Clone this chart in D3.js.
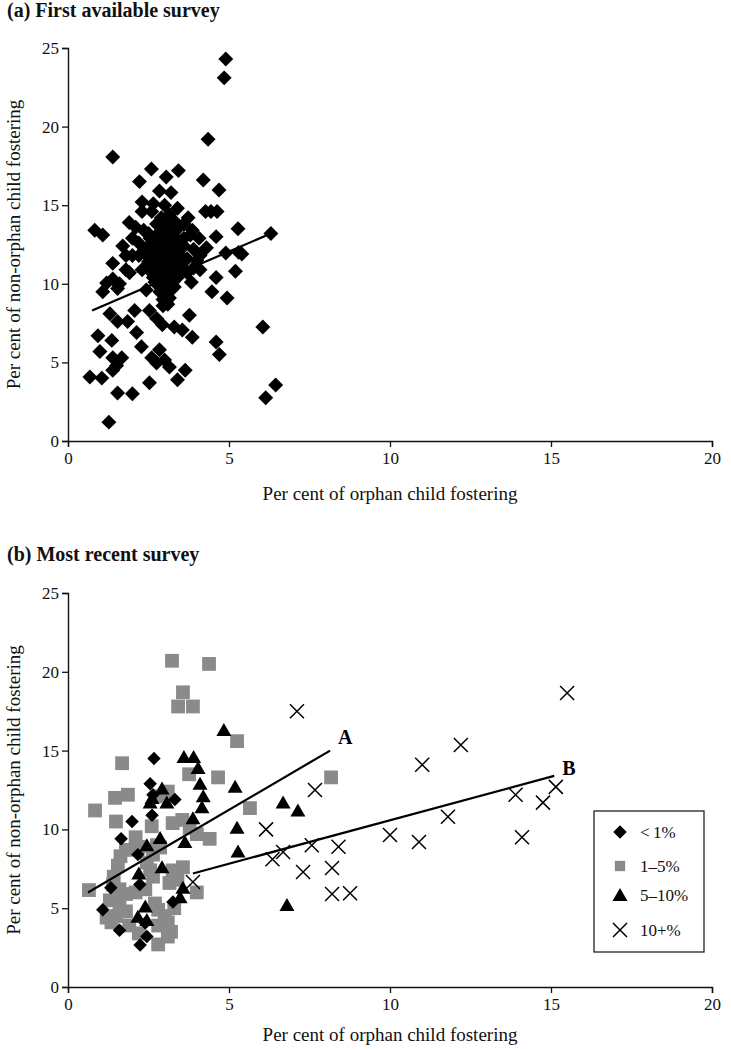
<!DOCTYPE html>
<html><head><meta charset="utf-8">
<script src="https://cdn.jsdelivr.net/npm/d3@7/dist/d3.min.js"></script>
<style>body{margin:0;background:#fff}svg{display:block}text{font-family:"Liberation Serif","Times New Roman",serif}</style>
</head><body>
<svg id="c" width="731" height="1050"></svg>
<script>
// ---------- DATA ----------
const xTicks = [0,5,10,15,20];
const yTicks = [0,5,10,15,20,25];
const legendLabels = ["<\u20091%","1\u20135%","5\u201310%","10+%"];

// Panel (a): first available survey [orphan %, non-orphan %]
const firstSurvey = [
[4.9,24.3],[4.85,23.1],[4.35,19.2],[1.39,18.07],[2.59,17.3],[3.05,16.8],[3.43,17.2],[2.22,16.5],[4.2,16.6],[4.69,15.97],
[2.84,15.9],[3.2,15.8],[2.3,15.2],[2.65,15.1],[3.0,15.0],[3.4,14.8],[2.3,14.6],[2.6,14.6],[4.27,14.6],[4.44,14.6],
[4.63,14.6],[3.73,14.2],[0.83,13.4],[1.08,13.1],[1.9,13.9],[2.1,13.6],[5.28,13.5],[6.3,13.2],[4.6,13.0],[3.86,13.4],
[4.07,12.9],[5.3,12.0],[4.9,11.96],[5.4,11.9],[5.2,10.8],[4.6,10.4],[4.47,9.5],[4.94,9.1],[3.83,10.1],
[1.8,11.8],[2.2,11.8],[2.0,11.8],[1.39,11.3],[1.8,10.9],[1.91,10.7],[1.39,10.3],[1.6,10.0],[1.2,10.05],[1.08,9.5],[1.54,9.7],[2.43,9.6],
[2.07,8.3],[1.3,8.1],[1.54,7.6],[1.85,7.6],[2.13,6.9],[2.28,6.0],[2.53,8.3],[2.75,7.8],[2.93,7.4],[3.05,8.8],
[3.3,7.25],[3.55,7.06],[3.77,8.0],[3.86,6.6],[0.93,6.7],[1.36,6.4],[0.99,5.7],[1.39,5.3],[1.67,5.3],[1.51,4.8],
[1.39,4.5],[0.68,4.07],[1.05,4.0],[1.54,3.05],[2.0,3.0],[2.53,3.7],[2.84,5.8],[3.0,5.15],[3.15,4.7],[2.75,4.96],
[2.6,5.3],[3.4,3.9],[3.64,4.5],[4.6,6.3],[4.7,5.5],[6.05,7.25],[6.45,3.56],[6.14,2.75],[1.27,1.2],
[2.5,13.2],[2.7,13.0],[2.9,13.4],[3.1,13.1],[3.3,13.3],[2.6,12.6],[2.8,12.4],[3.0,12.7],[3.2,12.5],[3.4,12.8],
[3.6,12.4],[2.4,12.2],[2.65,11.9],[2.85,11.7],[3.05,12.0],[3.25,11.8],[3.45,11.9],[3.7,11.6],[2.5,11.4],[2.75,11.2],
[2.95,11.3],[3.15,11.1],[3.35,11.3],[3.55,11.0],[2.6,10.7],[2.8,10.5],[3.0,10.8],[3.2,10.6],[3.4,10.4],[2.7,10.1],
[2.9,9.9],[3.1,10.2],[3.3,9.8],[2.85,9.5],[3.05,9.3],[3.2,9.6],[2.95,9.0],[3.1,8.7],[3.3,14.0],[2.9,14.2],
[3.6,13.8],[3.8,13.1],[3.9,12.2],[4.0,11.5],[3.7,10.7],[3.9,11.0],[2.3,10.9],[2.2,12.6],[2.35,13.4],[1.7,12.4],
[2.0,12.9],[4.1,11.8],[4.3,12.3],[4.1,10.9],
[2.55,12.9],[2.75,12.7],[2.95,12.2],[3.15,12.3],[3.35,12.2],[2.7,11.6],[2.9,11.0],[3.1,11.6],[3.3,10.9],[3.5,11.5],
[2.65,10.4],[2.85,10.2],[3.05,10.5],[3.25,10.1],[2.95,9.7],[3.0,9.6],[3.15,9.1],[2.95,8.6],[3.05,13.7],[2.75,13.8],
[3.15,14.4],[3.45,13.6],[2.45,11.8],[3.6,12.9]
];
const fitFirst = [[0.75,8.3],[6.3,13.2]];

// Panel (b): most recent survey, by level of orphanhood
const lt1 = [
[2.67,14.5],[2.64,12.2],[3.32,11.9],[2.61,10.9],[1.99,10.5],[1.65,9.4],[2.17,8.4],[1.33,6.3],[2.23,6.5],[3.26,5.4],
[1.08,4.9],[1.6,3.6],[2.4,4.06],[2.45,3.2],[2.24,2.67],[2.55,12.9]
];
const p1to5 = [
[3.23,20.7],[4.38,20.5],[3.57,18.7],[3.42,17.8],[3.88,17.8],[5.25,15.6],[1.68,14.2],[3.76,13.5],[4.66,13.3],[8.17,13.3],
[5.65,11.35],[1.46,12.0],[1.86,12.2],[0.84,11.2],[3.1,12.4],[2.9,12.1],[1.49,10.5],[2.6,10.2],[3.25,10.4],[3.55,10.6],
[3.78,10.1],[4.0,9.7],[4.4,9.4],[2.1,9.5],[2.2,8.9],[1.8,8.7],[1.63,8.3],[1.55,7.7],[1.42,7.0],[2.76,9.0],
[2.64,8.4],[2.86,8.85],[2.45,7.9],[2.55,7.4],[2.64,7.0],[3.25,7.4],[3.57,7.6],[3.4,6.8],[4.0,6.0],[3.15,6.6],
[0.65,6.15],[1.4,6.5],[1.6,6.2],[1.5,5.8],[1.8,5.9],[2.1,6.0],[2.4,6.2],[1.3,5.5],[1.6,5.2],[1.8,4.8],
[1.5,4.5],[1.2,4.4],[1.35,4.1],[1.9,3.9],[2.2,3.4],[2.7,5.3],[2.8,4.9],[3.0,4.5],[3.1,4.1],[2.8,3.9],
[3.2,3.5],[2.8,2.7],[3.1,3.2],[3.3,5.0]
];
const p5to10 = [
[4.84,16.3],[3.6,14.6],[3.9,14.6],[4.04,13.9],[4.1,12.9],[4.2,12.1],[4.16,11.4],[3.88,10.7],[5.19,12.7],[6.68,11.7],
[7.14,11.2],[5.25,10.1],[5.28,8.6],[2.92,12.6],[2.61,12.0],[2.55,11.7],[3.07,11.7],[2.45,9.0],[2.86,9.45],[3.63,9.2],
[2.92,7.6],[3.57,6.3],[3.48,5.7],[2.4,5.1],[2.17,4.45],[2.45,4.25],[6.8,5.2],[2.2,7.2]
];
const p10plus = [
[7.11,17.5],[7.67,12.5],[12.2,15.35],[11.0,14.1],[15.5,18.65],[15.15,12.7],[13.9,12.2],[14.75,11.7],[11.8,10.8],[10.0,9.65],
[10.9,9.2],[14.1,9.5],[6.15,10.0],[6.35,8.1],[6.68,8.57],[7.57,9.0],[8.4,8.9],[7.3,7.3],[8.2,7.55],[8.2,5.9],
[8.76,5.95],[3.88,6.66]
];
const fitA = [[0.62,6.0],[8.14,15.0]];
const fitB = [[3.88,7.2],[15.1,13.4]];

// ---------- DRAW ----------
const svg = d3.select("#c");
const x = d3.scaleLinear().domain([0,20]).range([68,712]);
const yA = d3.scaleLinear().domain([0,25]).range([441,48]);
const yB = d3.scaleLinear().domain([0,25]).range([987,593]);
const GRAY = "#8a8a8a";

const diamond = d3.symbol().type(d3.symbolSquare).size(112)();
const square = d3.symbol().type(d3.symbolSquare).size(190)();
const tri = "M0,-7L7.5,6L-7.5,6Z";
const cross = "M-7,-7L7,7M7,-7L-7,7";

function axes(y, titleX, titleY, title, xTitleY) {
  const g = svg.append("g");
  const ax = g.append("g").attr("transform",`translate(0,${y(0)})`)
    .call(d3.axisBottom(x).tickValues(xTicks).tickSize(6).tickPadding(5));
  const ay = g.append("g").attr("transform",`translate(${x(0)},0)`)
    .call(d3.axisLeft(y).tickValues(yTicks).tickSize(6).tickPadding(3));
  [ax,ay].forEach(a=>{
    a.select(".domain").attr("stroke","#111").attr("stroke-width",1.4);
    a.selectAll(".tick line").attr("stroke","#111").attr("stroke-width",1.3);
    a.selectAll(".tick text").attr("fill","#111").style("font-size","17px").style("font-family",'"Liberation Serif",serif');
  });
  g.append("text").attr("x",390).attr("y",xTitleY).attr("text-anchor","middle")
    .style("font-size","19px").attr("fill","#111").text("Per cent of orphan child fostering");
  g.append("text").attr("transform",`translate(${titleX},${(y(0)+y(25))/2}) rotate(-90)`)
    .attr("text-anchor","middle").style("font-size","19px").attr("fill","#111")
    .text("Per cent of non-orphan child fostering");
  g.append("text").attr("x",7).attr("y",titleY).style("font-size","20px").style("font-weight","bold")
    .attr("fill","#111").text(title);
}

axes(yA, 20, 17, "(a) First available survey", 500);
axes(yB, 20, 561, "(b) Most recent survey", 1041);

const line = y => d3.line().x(d=>x(d[0])).y(d=>y(d[1]));

// Panel a
svg.append("g").selectAll("path").data(firstSurvey).join("path")
  .attr("d",diamond).attr("fill","#000")
  .attr("transform",d=>`translate(${x(d[0])},${yA(d[1])}) rotate(45)`);
svg.append("path").datum(fitFirst).attr("d",line(yA)).attr("stroke","#000").attr("stroke-width",2.2).attr("fill","none");

// Panel b
const gb = svg.append("g");
gb.selectAll(".sq").data(p1to5).join("path").attr("class","sq")
  .attr("d",square).attr("fill",GRAY)
  .attr("transform",d=>`translate(${x(d[0])},${yB(d[1])})`);
gb.selectAll(".dm").data(lt1).join("path").attr("class","dm")
  .attr("d",diamond).attr("fill","#000")
  .attr("transform",d=>`translate(${x(d[0])},${yB(d[1])}) rotate(45) scale(0.9)`);
gb.selectAll(".tr").data(p5to10).join("path").attr("class","tr")
  .attr("d",tri).attr("fill","#000")
  .attr("transform",d=>`translate(${x(d[0])},${yB(d[1])})`);
gb.selectAll(".cr").data(p10plus).join("path").attr("class","cr")
  .attr("d",cross).attr("stroke","#000").attr("stroke-width",1.5).attr("fill","none")
  .attr("transform",d=>`translate(${x(d[0])},${yB(d[1])})`);
gb.append("path").datum(fitA).attr("d",line(yB)).attr("stroke","#000").attr("stroke-width",2.2).attr("fill","none");
gb.append("path").datum(fitB).attr("d",line(yB)).attr("stroke","#000").attr("stroke-width",2.2).attr("fill","none");
gb.append("text").attr("x",x(fitA[1][0])+8).attr("y",yB(fitA[1][1])-7).style("font-size","20px").style("font-weight","bold").text("A");
gb.append("text").attr("x",x(fitB[1][0])+8).attr("y",yB(fitB[1][1])-1).style("font-size","20px").style("font-weight","bold").text("B");

// Legend
const lg = svg.append("g").attr("transform","translate(594,811)");
lg.append("rect").attr("width",110).attr("height",141).attr("fill","#fff").attr("stroke","#222").attr("stroke-width",1.3);
const shapes = [
  {d:diamond, fill:"#000", rot:45, scale:0.9},
  {d:square, fill:GRAY, rot:0, scale:0.75},
  {d:tri, fill:"#000", rot:0},
  {d:cross, fill:"none", stroke:"#000", rot:0}
];
const rows = [21, 55, 84, 119];
legendLabels.forEach((lab,i)=>{
  const s = shapes[i];
  lg.append("path").attr("d",s.d).attr("fill",s.fill).attr("stroke",s.stroke||"none").attr("stroke-width",1.5)
    .attr("transform",`translate(26,${rows[i]}) rotate(${s.rot}) scale(${s.scale||1})`);
  lg.append("text").attr("x",46).attr("y",rows[i]+6).style("font-size","17px").attr("fill","#111").text(lab);
});
</script>
</body></html>
